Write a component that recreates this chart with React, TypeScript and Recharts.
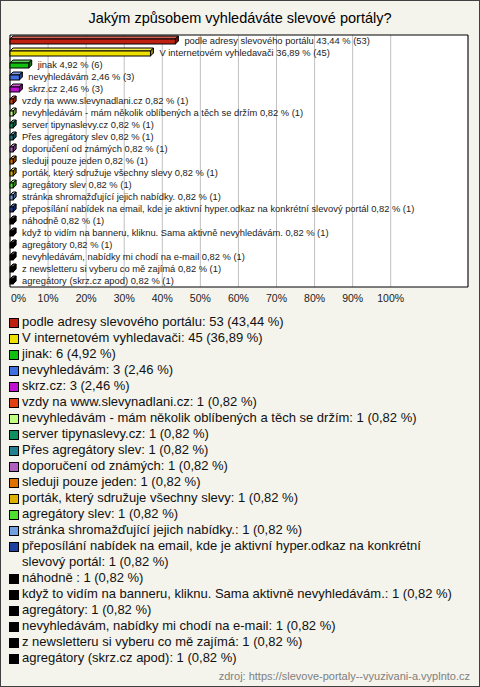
import React from 'react';
import { BarChart, Bar, XAxis, YAxis, CartesianGrid, ReferenceArea, LabelList } from 'recharts';

const categories = [
  'podle adresy slevového portálu',
  'V internetovém vyhledavači',
  'jinak',
  'nevyhledávám',
  'skrz.cz',
  'vzdy na www.slevynadlani.cz',
  'nevyhledávám - mám několik oblíbených a těch se držím',
  'server tipynaslevy.cz',
  'Přes agregátory slev',
  'doporučení od známých',
  'sleduji pouze jeden',
  'porták, který sdružuje všechny slevy',
  'agregátory slev',
  'stránka shromažďující jejich nabídky.',
  'přeposílání nabídek na email, kde je aktivní hyper.odkaz na konkrétní slevový portál',
  'náhodně ',
  'když to vidím na banneru, kliknu. Sama aktivně nevyhledávám.',
  'agregátory',
  'nevyhledávám, nabídky mi chodí na e-mail',
  'z newsletteru si vyberu co mě zajímá',
  'agregátory (skrz.cz apod)',
];

const counts = [53, 45, 6, 3, 3, 1, 1, 1, 1, 1, 1, 1, 1, 1, 1, 1, 1, 1, 1, 1, 1];

const percents = [
  43.44, 36.89, 4.92, 2.46, 2.46, 0.82, 0.82, 0.82, 0.82, 0.82, 0.82,
  0.82, 0.82, 0.82, 0.82, 0.82, 0.82, 0.82, 0.82, 0.82, 0.82,
];

const colors = [
  '#c02010', '#f0e000', '#10c010', '#4070e0', '#c010d0', '#e04010', '#c0ff80',
  '#109060', '#208090', '#b060c0', '#e07000', '#e0b000', '#50e030', '#70a0e0',
  '#2040a0', '#000000', '#000000', '#000000', '#000000', '#000000', '#000000',
];

const xTicks = [0, 10, 20, 30, 40, 50, 60, 70, 80, 90, 100];

const fmt = (v: number) => v.toFixed(2).replace('.', ',');

const data = categories.map((name, i) => ({
  name,
  pct: percents[i],
  label: `${name} ${fmt(percents[i])} % (${counts[i]})`,
}));

const FONT = '"Liberation Sans", Arial, sans-serif';

// shade a hex colour, f>0 lighter, f<0 darker
const shade = (hex: string, f: number) => {
  const n = parseInt(hex.slice(1), 16);
  const ch = [(n >> 16) & 255, (n >> 8) & 255, n & 255].map((c) =>
    Math.round(f > 0 ? c + (255 - c) * f : c * (1 + f))
  );
  return `rgb(${ch.join(',')})`;
};

const Bar3D = (props: any) => {
  const { x, y, width, height, index } = props;
  const c = y + height / 2;
  const fill = colors[index];
  const d = 3;
  const x0 = x;
  const x1 = x + Math.max(width, 1);
  const top = c - 2;
  const bot = c + 3;
  return (
    <g>
      <polygon
        points={`${x0},${top} ${x0 + d},${top - d} ${x1 + d},${top - d} ${x1},${top}`}
        fill={shade(fill, 0.3)}
        stroke="#000"
        strokeWidth={1}
      />
      <polygon
        points={`${x1},${top} ${x1 + d},${top - d} ${x1 + d},${bot - d} ${x1},${bot}`}
        fill={shade(fill, -0.4)}
        stroke="#000"
        strokeWidth={1}
      />
      <rect x={x0} y={top} width={x1 - x0} height={bot - top} fill={fill} stroke="#000" strokeWidth={1} />
    </g>
  );
};

const BarLabel = (props: any) => {
  const { x, y, width, height, value } = props;
  return (
    <text
      x={x + width + 9}
      y={y + height / 2 + 3}
      fontSize={9.35}
      fontFamily={FONT}
      fill="#222"
    >
      {value}
    </text>
  );
};

const Tick = (props: any) => {
  const { x, y, payload } = props;
  const first = payload.value === 0;
  return (
    <text
      x={first ? x + 1 : x}
      y={y + 7}
      textAnchor={first ? 'start' : 'middle'}
      fontSize={10.5}
      fontFamily={FONT}
      fill="#222"
    >
      {payload.value}%
    </text>
  );
};

export default function App() {
  return (
    <div
      style={{
        position: 'absolute',
        left: 0,
        top: 0,
        width: 478,
        height: 685,
        background: '#f4f3ec',
        border: '1px solid #404040',
        fontFamily: FONT,
        overflow: 'hidden',
      }}
    >
      <div
        style={{
          position: 'absolute',
          left: 0,
          top: 9,
          width: 478,
          textAlign: 'center',
          fontSize: 14.5,
          color: '#000',
        }}
      >
        Jakým způsobem vyhledáváte slevové portály?
      </div>
      <div style={{ position: 'absolute', left: -1, top: -1 }}>
        <BarChart
          width={480}
          height={687}
          data={data}
          layout="vertical"
          margin={{ top: 35, right: 12, bottom: 375, left: 10 }}
          barCategoryGap={0}
        >
          <CartesianGrid horizontal={false} stroke="#c0c0c0" fill="#ffffff" fillOpacity={1} />
          <XAxis
            type="number"
            domain={[0, 120.3]}
            ticks={xTicks}
            axisLine={false}
            tickLine={false}
            height={25}
            tick={<Tick />}
            interval={0}
          />
          <YAxis type="category" dataKey="name" hide />
          <ReferenceArea x1={0} x2={120.3} fill="none" stroke="#000" strokeWidth={1} ifOverflow="visible" />
          <Bar dataKey="pct" isAnimationActive={false} shape={<Bar3D />}>
            <LabelList dataKey="label" content={<BarLabel />} />
          </Bar>
        </BarChart>
      </div>
      <div style={{ position: 'absolute', left: 8, top: 313, width: 452 }}>
        {categories.map((name, i) => (
          <div key={i} style={{ display: 'flex', alignItems: 'flex-start', fontSize: 13, lineHeight: '16px', color: '#111' }}>
            <span
              style={{
                flex: '0 0 auto',
                width: 8,
                height: 8,
                marginTop: 4,
                marginRight: 3,
                background: colors[i],
                border: '1px solid #000',
              }}
            />
            <span>{`${name}: ${counts[i]} (${fmt(percents[i])} %)`}</span>
          </div>
        ))}
      </div>
      <div
        style={{
          position: 'absolute',
          right: 9,
          top: 669,
          fontSize: 11,
          color: '#808080',
        }}
      >
        zdroj: https://slevove-portaly--vyuzivani-a.vyplnto.cz
      </div>
    </div>
  );
}
